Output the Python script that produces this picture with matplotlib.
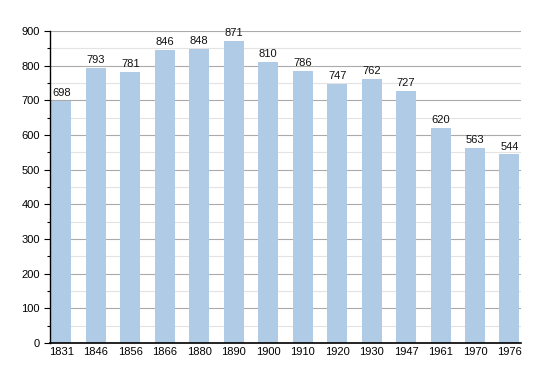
import matplotlib.pyplot as plt
import numpy as np

plt.rcParams['font.family'] = ['Liberation Sans', 'DejaVu Sans']

years = ['1831', '1846', '1856', '1866', '1880', '1890', '1900',
         '1910', '1920', '1930', '1947', '1961', '1970', '1976']
population = [698, 793, 781, 846, 848, 871, 810, 786, 747, 762, 727, 620, 563, 544]

fig = plt.figure(figsize=(5.5, 3.73), dpi=100)
ax = fig.add_axes([0.091, 0.080, 0.856, 0.837])

x = np.arange(len(years))
ax.bar(x, population, width=0.58, color='#b0cbe5', zorder=2)
for xi, v in zip(x, population):
    ax.text(xi, v + 8, str(v), ha='center', va='bottom', fontsize=8, color='#111111')

ax.set_xlim(-0.33, len(years) - 1 + 0.33)
ax.set_ylim(0, 900)
ax.set_xticks(x)
ax.set_xticklabels(years, fontsize=8)
ax.set_yticks(range(0, 901, 100))
ax.set_yticks(range(50, 900, 100), minor=True)
ax.tick_params(axis='y', labelsize=8, length=4, width=0.8)
ax.tick_params(axis='y', which='minor', length=2.5, width=0.8)
ax.tick_params(axis='x', length=0, pad=3, labelsize=8)

ax.grid(axis='y', which='major', color='#aaaaaa', linewidth=0.8, zorder=1)
ax.grid(axis='y', which='minor', color='#e3e3e3', linewidth=0.8, zorder=1)
for s in ['top', 'right']:
    ax.spines[s].set_visible(False)
ax.spines['left'].set_linewidth(1.0)
ax.spines['bottom'].set_linewidth(1.2)

fig.savefig('out.png', dpi=100)
